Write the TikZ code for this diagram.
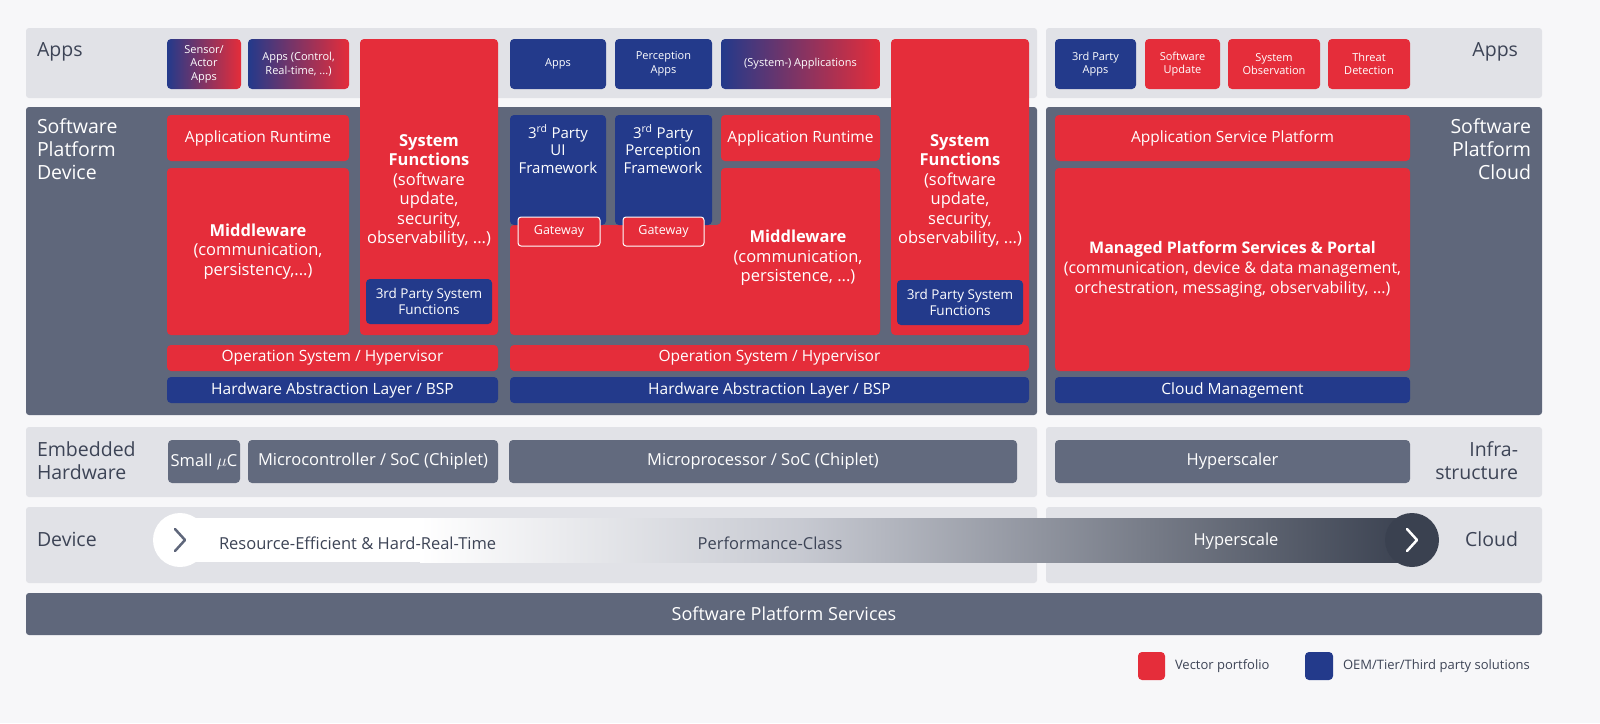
\documentclass[tikz,border=0pt]{standalone}
\usepackage{fontspec}
\setmainfont{Open Sans}
\begin{document}
\definecolor{bgc}{HTML}{F7F7F9}
\definecolor{band}{HTML}{E1E2E7}
\definecolor{dband}{HTML}{5F677B}
\definecolor{vred}{HTML}{E52D3A}
\definecolor{vblue}{HTML}{233A8B}
\definecolor{hw}{HTML}{626A7E}
\definecolor{dk}{HTML}{3A4150}
\definecolor{txt}{HTML}{3D4456}
\newcommand\mybox[7]{\node[#6, minimum width={#4-#2}, minimum height={#5-#3}] (#1) at ({(#2+#4)/2},{(#3+#5)/2}) {#7};}
\begin{tikzpicture}[x=1pt,y=-1pt,
  every node/.style={inner sep=0pt, outer sep=0pt, align=center},
  lb/.style={fill=band, rounded corners=3pt},
  db/.style={fill=dband, rounded corners=3pt},
  red/.style={fill=vred, rounded corners=4pt, text=white, font=\fontsize{15.5}{19}\selectfont},
  blue/.style={fill=vblue, rounded corners=4pt, text=white, font=\fontsize{15.5}{19}\selectfont},
  sred/.style={red, font=\fontsize{11}{13.5}\selectfont},
  sblue/.style={blue, font=\fontsize{11}{13.5}\selectfont},
  grad/.style={rounded corners=4pt, left color=vblue, right color=vred, text=white, font=\fontsize{11}{13.5}\selectfont},
  hwb/.style={fill=hw, rounded corners=4pt, text=white, font=\fontsize{16.5}{19}\selectfont},
  gw/.style={fill=vred, draw=white, line width=1pt, rounded corners=3pt, text=white, font=\fontsize{12.5}{14}\selectfont},
  big/.style={font=\fontsize{16.5}{19.5}\selectfont},
  tps/.style={blue, font=\fontsize{13.5}{16}\selectfont},
  lab/.style={font=\fontsize{19.5}{23}\selectfont},
]
\fill[bgc] (0,0) rectangle (1600,723);
% bands
\mybox{b1}{26}{28}{1037}{98}{lb}{}
\mybox{b2}{1046}{28}{1542}{98}{lb}{}
\mybox{b3}{26}{107}{1037}{415}{db}{}
\mybox{b4}{1046}{107}{1542}{415}{db}{}
\mybox{b5}{26}{427}{1037}{497}{lb}{}
\mybox{b6}{1046}{427}{1542}{497}{lb}{}
\mybox{b7}{26}{507}{1037}{583}{lb}{}
\mybox{b8}{1046}{507}{1542}{583}{lb}{}
\mybox{b9}{26}{593}{1542}{635}{db, text=white, font=\fontsize{18}{20}\selectfont}{Software Platform Services}
% side labels
\node[lab, text=txt, anchor=west] (l1) at (37,52) {Apps};
\node[lab, text=txt, anchor=east] (l2) at (1518,52) {Apps};
\node[lab, text=white, anchor=north west, align=left] (l3) at (37,119) {Software\\Platform\\Device};
\node[lab, text=white, anchor=north east, align=right] (l4) at (1531,119) {Software\\Platform\\Cloud};
\node[lab, text=txt, anchor=west, align=left] (l5) at (37,461) {Embedded\\Hardware};
\node[lab, text=txt, anchor=east, align=right] (l6) at (1518,461) {Infra-\\structure};
\node[lab, text=txt, anchor=west] (l7) at (37,539) {Device};
\node[lab, text=txt, anchor=east] (l8) at (1518,539) {Cloud};
% apps row
\mybox{a1}{167}{39}{241}{89}{grad}{Sensor/\\Actor\\Apps}
\mybox{a2}{248}{39}{349}{89}{grad}{Apps (Control,\\Real-time, ...)}
\mybox{a3}{510}{39}{606}{89}{sblue}{Apps}
\mybox{a4}{615}{39}{712}{89}{sblue}{Perception\\Apps}
\mybox{a5}{721}{39}{880}{89}{grad}{(System-) Applications}
\mybox{a6}{1055}{39}{1136}{89}{sblue}{3rd Party\\Apps}
\mybox{a7}{1145}{39}{1220}{89}{sred}{Software\\Update}
\mybox{a8}{1228}{39}{1320}{89}{sred}{System\\Observation}
\mybox{a9}{1328}{39}{1410}{89}{sred}{Threat\\Detection}
% system functions
\mybox{sf1}{360}{39}{498}{335}{red}{}
\node[text=white, big] (sf1t) at (429,191) {\textbf{System}\\\textbf{Functions}\\(software\\update,\\security,\\observability, ...)};
\mybox{tp1}{366}{279}{492}{324}{tps}{3rd Party System\\Functions}
\mybox{sf2}{891}{39}{1029}{335}{red}{}
\node[text=white, big] (sf2t) at (960,191) {\textbf{System}\\\textbf{Functions}\\(software\\update,\\security,\\observability, ...)};
\mybox{tp2}{897}{280}{1023}{325}{tps}{3rd Party System\\Functions}
% left runtime / middleware
\mybox{ar1}{167}{115}{349}{161}{red}{Application Runtime}
\mybox{mw1}{167}{168}{349}{335}{red, big}{\textbf{Middleware}\\(communication,\\persistency,...)}
% middle
\fill[vred, rounded corners=4pt] (510,225) -- (721,225) -- (721,168) -- (880,168) -- (880,335) -- (510,335) -- cycle;
\node[text=white, big] (mw2) at (798,258) {\textbf{Middleware}\\(communication,\\persistence, ...)};
\mybox{fw1}{510}{115}{606}{225}{blue}{}
\node[text=white, font=\fontsize{15}{17.5}\selectfont, anchor=north] (fw1t) at (558,125) {3\textsuperscript{rd} Party\\UI\\Framework};
\mybox{fw2}{615}{115}{712}{225}{blue}{}
\node[text=white, font=\fontsize{15}{17.5}\selectfont, anchor=north] (fw2t) at (663,125) {3\textsuperscript{rd} Party\\Perception\\Framework};
\mybox{gw1}{518}{217}{600}{246}{gw}{Gateway}
\mybox{gw2}{623}{217}{704}{246}{gw}{Gateway}
\mybox{ar2}{721}{115}{880}{161}{red}{Application Runtime}
% OS / HAL
\mybox{os1}{167}{345}{498}{371}{red}{Operation System / Hypervisor}
\mybox{os2}{510}{345}{1029}{371}{red}{Operation System / Hypervisor}
\mybox{hal1}{167}{377}{498}{403}{blue}{Hardware Abstraction Layer / BSP}
\mybox{hal2}{510}{377}{1029}{403}{blue}{Hardware Abstraction Layer / BSP}
% cloud
\mybox{asp}{1055}{115}{1410}{161}{red}{Application Service Platform}
\mybox{mps}{1055}{168}{1410}{371}{red, font=\fontsize{16}{20}\selectfont}{\textbf{Managed Platform Services \& Portal}\\(communication, device \& data management,\\orchestration, messaging, observability, ...)}
\mybox{cm}{1055}{377}{1410}{403}{blue}{Cloud Management}
% hardware
\mybox{h1}{168}{440}{240}{483}{hwb}{Small $\mu$C}
\mybox{h2}{248}{440}{498}{483}{hwb}{Microcontroller / SoC (Chiplet)}
\mybox{h3}{509}{440}{1017}{483}{hwb}{Microprocessor / SoC (Chiplet)}
\mybox{h4}{1055}{440}{1410}{483}{hwb}{Hyperscaler}
% performance arrow
\fill[white] (180,518) rectangle (421,562);
\shade[left color=white, right color=band!80!dband] (420,518) rectangle (801,562);
\shade[left color=band!80!dband, right color=dk] (800,518) rectangle (1412,562);
\node[circle, fill=white, minimum size=54pt] (c1) at (180,540) {};
\node[circle, fill=dk, minimum size=54pt] (c2) at (1412,540) {};
\draw[dband, line width=2.5pt, line cap=round, line join=round] (175,529) -- (185,540) -- (175,551);
\draw[white, line width=2.5pt, line cap=round, line join=round] (1407,529) -- (1417,540) -- (1407,551);
\node[text=txt, font=\fontsize{16.5}{19}\selectfont, anchor=west] (t1) at (219,543) {Resource-Efficient \& Hard-Real-Time};
\node[text=txt, font=\fontsize{16.5}{19}\selectfont] (t2) at (770,543) {Performance-Class};
\node[text=white, font=\fontsize{16.5}{19}\selectfont] (t3) at (1236,541) {Hyperscale};
% legend
\mybox{lg1}{1138}{652}{1165}{680}{red}{}
\node[anchor=west, text=txt, font=\fontsize{13}{15}\selectfont] (lt1) at (1175,666) {Vector portfolio};
\mybox{lg2}{1305}{652}{1333}{680}{blue}{}
\node[anchor=west, text=txt, font=\fontsize{13}{15}\selectfont] (lt2) at (1343,666) {OEM/Tier/Third party solutions};
\pgfresetboundingbox
\useasboundingbox (0,0) rectangle (1600,723);
\end{tikzpicture}
\end{document}
